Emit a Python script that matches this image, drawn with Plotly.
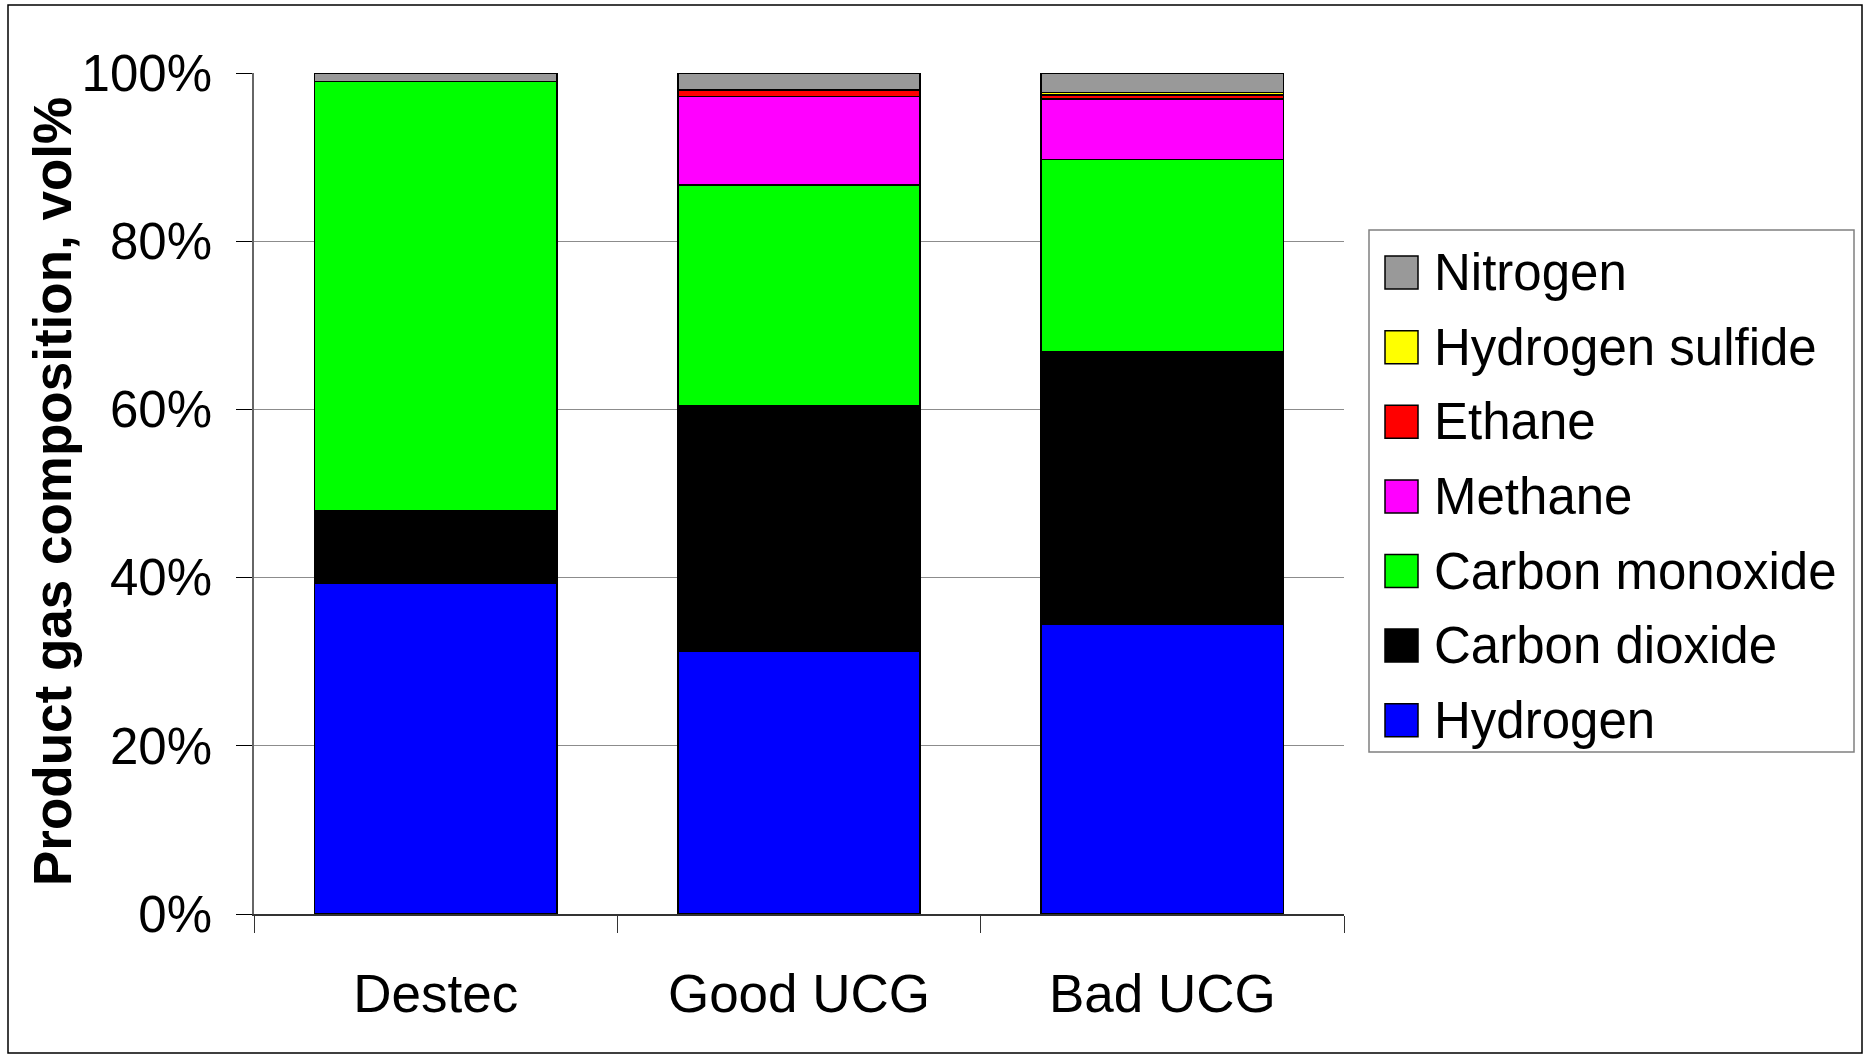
import plotly.graph_objects as go

# Gas composition (vol%) of the three product gases
categories = ["Destec", "Good UCG", "Bad UCG"]
hydrogen = [39.3, 31.3, 34.5]
carbon_dioxide = [8.6, 29.1, 32.3]
carbon_monoxide = [51.1, 26.3, 22.9]
methane = [0.0, 10.5, 7.2]
ethane = [0.0, 0.8, 0.5]
hydrogen_sulfide = [0.0, 0.0, 0.3]
nitrogen = [1.0, 2.0, 2.3]

y_ticks = [0, 20, 40, 60, 80, 100]
y_tick_labels = ["0%", "20%", "40%", "60%", "80%", "100%"]

# Stacking order, bottom to top
series = [
    ("Hydrogen", hydrogen, "#0000FF"),
    ("Carbon dioxide", carbon_dioxide, "#000000"),
    ("Carbon monoxide", carbon_monoxide, "#00FF00"),
    ("Methane", methane, "#FF00FF"),
    ("Ethane", ethane, "#FF0000"),
    ("Hydrogen sulfide", hydrogen_sulfide, "#FFFF00"),
    ("Nitrogen", nitrogen, "#999999"),
]

W, H = 1870, 1057
L, R, T, B = 254, 1344, 73, 914
FONT = "Liberation Sans, Arial, sans-serif"


def px_x(x):
    return (x - L) / (R - L)


def px_y(y):
    return (B - y) / (B - T)


fig = go.Figure()
for name, vals, color in series:
    fig.add_trace(go.Bar(
        name=name, x=categories, y=vals,
        marker=dict(color=color, line=dict(color="#000000", width=1.5)),
        showlegend=False,
    ))

shapes = []
annotations = []

# Outer chart frame
shapes.append(dict(type="rect", xref="paper", yref="paper",
                   x0=px_x(8), x1=px_x(1862), y0=px_y(1053), y1=px_y(5),
                   line=dict(color="#000000", width=1.5), layer="below"))

# Legend box with one swatch per series, top entry = top of stack
shapes.append(dict(type="rect", xref="paper", yref="paper",
                   x0=px_x(1369), x1=px_x(1854), y0=px_y(752), y1=px_y(230),
                   line=dict(color="#808080", width=1.5), fillcolor="white"))
for i, (name, vals, color) in enumerate(reversed(series)):
    cy = 272.6 + i * 74.6
    shapes.append(dict(type="rect", xref="paper", yref="paper",
                       x0=px_x(1385), x1=px_x(1418),
                       y0=px_y(cy + 16.5), y1=px_y(cy - 16.5),
                       fillcolor=color, line=dict(color="#000000", width=1.5)))
    annotations.append(dict(xref="paper", yref="paper", x=px_x(1432), y=px_y(cy),
                            text=name, showarrow=False, xanchor="left", yanchor="middle",
                            font=dict(family=FONT, size=51, color="#000000")))

# Y axis title
annotations.append(dict(xref="paper", yref="paper", x=px_x(52), y=px_y(492),
                        text="<b>Product gas composition, vol%</b>", textangle=-90,
                        showarrow=False, xanchor="center", yanchor="middle",
                        font=dict(family=FONT, size=53, color="#000000")))

fig.update_layout(
    width=W, height=H,
    margin=dict(l=L, r=W - R, t=T, b=H - B, pad=0),
    paper_bgcolor="white", plot_bgcolor="white",
    barmode="stack", bargap=0.333,
    font=dict(family=FONT, size=51, color="#000000"),
    shapes=shapes, annotations=annotations,
    showlegend=False,
)

fig.update_xaxes(
    type="category", range=[-0.5, 2.5],
    tickson="boundaries", ticks="outside", ticklen=17, tickwidth=1.2, tickcolor="#333333",
    showline=True, linecolor="#333333", linewidth=2,
    showgrid=False, ticklabelstandoff=32,
    tickfont=dict(family=FONT, size=53, color="#000000"),
)
fig.update_yaxes(
    range=[0, 100], tickmode="array", tickvals=y_ticks, ticktext=y_tick_labels,
    ticks="outside", ticklen=16, tickwidth=1.2, tickcolor="#000000",
    showline=True, linecolor="#666666", linewidth=1.5,
    showgrid=True, gridcolor="#8C8C8C", gridwidth=1.2,
    zeroline=False, ticklabelstandoff=14,
    tickfont=dict(family=FONT, size=51, color="#000000"),
)

fig.write_html("out.html", config={"responsive": False, "displayModeBar": False})
